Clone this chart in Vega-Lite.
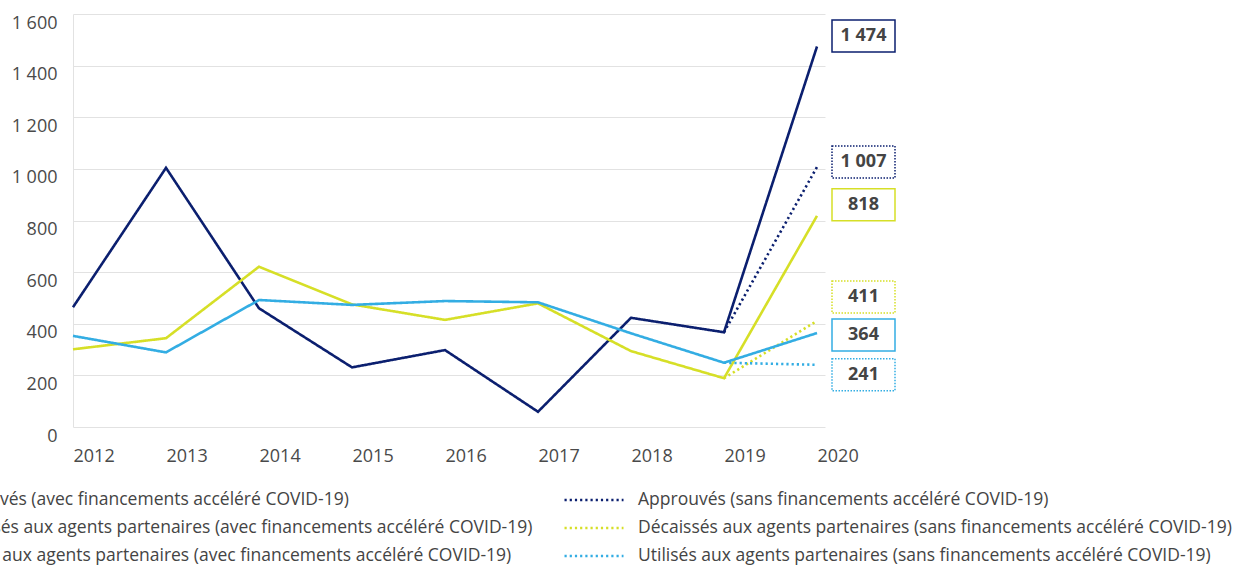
{
  "$schema": "https://vega.github.io/schema/vega-lite/v6.json",
  "width": 752,
  "height": 413,
  "autosize": {"type": "none"},
  "padding": {"left": 73, "top": 14, "right": 410, "bottom": 139},
  "background": "white",
  "config": {
    "view": {"stroke": null},
    "font": "Open Sans",
    "locale": {"number": {"decimal": ",", "thousands": " ", "grouping": [3], "currency": ["", " €"]}}
  },
  "datasets": {
    "series": [
      {"series": "Approuvés (avec financements accéléré COVID-19)", "year": 2012, "value": 464},
      {"series": "Approuvés (avec financements accéléré COVID-19)", "year": 2013, "value": 1004},
      {"series": "Approuvés (avec financements accéléré COVID-19)", "year": 2014, "value": 460},
      {"series": "Approuvés (avec financements accéléré COVID-19)", "year": 2015, "value": 231},
      {"series": "Approuvés (avec financements accéléré COVID-19)", "year": 2016, "value": 298},
      {"series": "Approuvés (avec financements accéléré COVID-19)", "year": 2017, "value": 59},
      {"series": "Approuvés (avec financements accéléré COVID-19)", "year": 2018, "value": 423},
      {"series": "Approuvés (avec financements accéléré COVID-19)", "year": 2019, "value": 367},
      {"series": "Approuvés (avec financements accéléré COVID-19)", "year": 2020, "value": 1474},
      {"series": "Approuvés (sans financements accéléré COVID-19)", "year": 2019, "value": 367},
      {"series": "Approuvés (sans financements accéléré COVID-19)", "year": 2020, "value": 1007},
      {"series": "Décaissés aux agents partenaires (avec financements accéléré COVID-19)", "year": 2012, "value": 301},
      {"series": "Décaissés aux agents partenaires (avec financements accéléré COVID-19)", "year": 2013, "value": 344},
      {"series": "Décaissés aux agents partenaires (avec financements accéléré COVID-19)", "year": 2014, "value": 621},
      {"series": "Décaissés aux agents partenaires (avec financements accéléré COVID-19)", "year": 2015, "value": 475},
      {"series": "Décaissés aux agents partenaires (avec financements accéléré COVID-19)", "year": 2016, "value": 415},
      {"series": "Décaissés aux agents partenaires (avec financements accéléré COVID-19)", "year": 2017, "value": 479},
      {"series": "Décaissés aux agents partenaires (avec financements accéléré COVID-19)", "year": 2018, "value": 294},
      {"series": "Décaissés aux agents partenaires (avec financements accéléré COVID-19)", "year": 2019, "value": 189},
      {"series": "Décaissés aux agents partenaires (avec financements accéléré COVID-19)", "year": 2020, "value": 818},
      {"series": "Décaissés aux agents partenaires (sans financements accéléré COVID-19)", "year": 2019, "value": 189},
      {"series": "Décaissés aux agents partenaires (sans financements accéléré COVID-19)", "year": 2020, "value": 411},
      {"series": "Utilisés aux agents partenaires (avec financements accéléré COVID-19)", "year": 2012, "value": 353},
      {"series": "Utilisés aux agents partenaires (avec financements accéléré COVID-19)", "year": 2013, "value": 289},
      {"series": "Utilisés aux agents partenaires (avec financements accéléré COVID-19)", "year": 2014, "value": 492},
      {"series": "Utilisés aux agents partenaires (avec financements accéléré COVID-19)", "year": 2015, "value": 473},
      {"series": "Utilisés aux agents partenaires (avec financements accéléré COVID-19)", "year": 2016, "value": 488},
      {"series": "Utilisés aux agents partenaires (avec financements accéléré COVID-19)", "year": 2017, "value": 483},
      {"series": "Utilisés aux agents partenaires (avec financements accéléré COVID-19)", "year": 2018, "value": 363},
      {"series": "Utilisés aux agents partenaires (avec financements accéléré COVID-19)", "year": 2019, "value": 249},
      {"series": "Utilisés aux agents partenaires (avec financements accéléré COVID-19)", "year": 2020, "value": 364},
      {"series": "Utilisés aux agents partenaires (sans financements accéléré COVID-19)", "year": 2019, "value": 249},
      {"series": "Utilisés aux agents partenaires (sans financements accéléré COVID-19)", "year": 2020, "value": 241}
    ],
    "labels": [
      {"series": "Approuvés (avec financements accéléré COVID-19)", "year": 2020, "value": 1474},
      {"series": "Approuvés (sans financements accéléré COVID-19)", "year": 2020, "value": 1007},
      {"series": "Décaissés aux agents partenaires (avec financements accéléré COVID-19)", "year": 2020, "value": 818},
      {"series": "Décaissés aux agents partenaires (sans financements accéléré COVID-19)", "year": 2020, "value": 411},
      {"series": "Utilisés aux agents partenaires (avec financements accéléré COVID-19)", "year": 2020, "value": 364},
      {"series": "Utilisés aux agents partenaires (sans financements accéléré COVID-19)", "year": 2020, "value": 241}
    ]
  },
  "encoding": {
    "x": {
      "field": "year", "type": "quantitative",
      "scale": {"domain": [2012, 2020.086], "nice": false, "zero": false},
      "axis": {
        "title": null, "values": [2012, 2013, 2014, 2015, 2016, 2017, 2018, 2019, 2020],
        "format": "d", "grid": false, "domain": false, "ticks": false, "tickSize": 0,
        "labelAlign": "left", "labelPadding": 20, "labelFontSize": 18, "labelColor": "#4a4a4a",
        "labelFont": "Open Sans", "labelFlush": false, "labelOverlap": false
      }
    },
    "y": {
      "field": "value", "type": "quantitative",
      "scale": {"domain": [0, 1600], "nice": false},
      "axis": {
        "title": null, "values": [0, 200, 400, 600, 800, 1000, 1200, 1400, 1600],
        "format": ",d", "grid": true, "gridColor": "#e2e2e2", "gridWidth": 1,
        "domain": true, "domainColor": "#e2e2e2", "domainWidth": 1,
        "ticks": false, "tickSize": 0, "labelPadding": 16, "labelOffset": 9,
        "labelFontSize": 18, "labelColor": "#4a4a4a", "labelFont": "Open Sans",
        "labelBaseline": "middle", "labelFlush": false, "labelOverlap": false
      }
    }
  },
  "layer": [
    {
      "data": {"name": "series"},
      "mark": {"type": "line", "strokeWidth": 2.6},
      "encoding": {
        "color": {
          "field": "series", "type": "nominal",
          "scale": {
            "domain": [
              "Approuvés (avec financements accéléré COVID-19)",
              "Décaissés aux agents partenaires (avec financements accéléré COVID-19)",
              "Utilisés aux agents partenaires (avec financements accéléré COVID-19)",
              "Approuvés (sans financements accéléré COVID-19)",
              "Décaissés aux agents partenaires (sans financements accéléré COVID-19)",
              "Utilisés aux agents partenaires (sans financements accéléré COVID-19)"
            ],
            "range": ["#0b1f6f", "#d6df27", "#33ade3", "#0b1f6f", "#d6df27", "#33ade3"]
          },
          "legend": {
            "title": null, "orient": "none", "legendX": -209, "legendY": 476,
            "columns": 2, "columnPadding": 30, "rowPadding": 8, "clipHeight": 20,
            "symbolType": "stroke", "symbolSize": 3481, "symbolStrokeWidth": 2.5,
            "labelFontSize": 17.5, "labelColor": "#444444", "labelFont": "Open Sans",
            "labelOffset": 13, "labelLimit": 900, "padding": 0
          }
        },
        "strokeDash": {
          "field": "series", "type": "nominal",
          "scale": {
            "domain": [
              "Approuvés (avec financements accéléré COVID-19)",
              "Décaissés aux agents partenaires (avec financements accéléré COVID-19)",
              "Utilisés aux agents partenaires (avec financements accéléré COVID-19)",
              "Approuvés (sans financements accéléré COVID-19)",
              "Décaissés aux agents partenaires (sans financements accéléré COVID-19)",
              "Utilisés aux agents partenaires (sans financements accéléré COVID-19)"
            ],
            "range": [[1, 0], [1, 0], [1, 0], [2.2, 3], [2.2, 3], [2.2, 3]]
          }
        }
      }
    },
    {
      "data": {"name": "labels"},
      "transform": [{"filter": {"field": "series", "equal": "Approuvés (avec financements accéléré COVID-19)"}}],
      "layer": [
        {"mark": {"type": "point", "shape": "M-1,-0.508H1V0.508H-1Z", "size": 3969, "filled": true, "fill": "white", "stroke": "#0b1f6f", "strokeWidth": 1.5, "opacity": 1, "xOffset": 46.5, "yOffset": -10.5}},
        {"mark": {"type": "text", "fontWeight": "bold", "fontSize": 18, "font": "Open Sans", "color": "#444444", "align": "center", "baseline": "middle", "xOffset": 46.5, "yOffset": -10.5},
         "encoding": {"text": {"field": "value", "type": "quantitative", "format": ",d"}}}
      ]
    },
    {
      "data": {"name": "labels"},
      "transform": [{"filter": {"field": "series", "equal": "Approuvés (sans financements accéléré COVID-19)"}}],
      "layer": [
        {"mark": {"type": "point", "shape": "M-1,-0.508H1V0.508H-1Z", "size": 3969, "filled": true, "fill": "white", "stroke": "#0b1f6f", "strokeWidth": 1.5, "strokeDash": [1.5, 1.5], "opacity": 1, "xOffset": 46.5, "yOffset": -5}},
        {"mark": {"type": "text", "fontWeight": "bold", "fontSize": 18, "font": "Open Sans", "color": "#444444", "align": "center", "baseline": "middle", "xOffset": 46.5, "yOffset": -5},
         "encoding": {"text": {"field": "value", "type": "quantitative", "format": ",d"}}}
      ]
    },
    {
      "data": {"name": "labels"},
      "transform": [{"filter": {"field": "series", "equal": "Décaissés aux agents partenaires (avec financements accéléré COVID-19)"}}],
      "layer": [
        {"mark": {"type": "point", "shape": "M-1,-0.508H1V0.508H-1Z", "size": 3969, "filled": true, "fill": "white", "stroke": "#d6df27", "strokeWidth": 1.5, "opacity": 1, "xOffset": 46.5, "yOffset": -11}},
        {"mark": {"type": "text", "fontWeight": "bold", "fontSize": 18, "font": "Open Sans", "color": "#444444", "align": "center", "baseline": "middle", "xOffset": 46.5, "yOffset": -11},
         "encoding": {"text": {"field": "value", "type": "quantitative", "format": ",d"}}}
      ]
    },
    {
      "data": {"name": "labels"},
      "transform": [{"filter": {"field": "series", "equal": "Décaissés aux agents partenaires (sans financements accéléré COVID-19)"}}],
      "layer": [
        {"mark": {"type": "point", "shape": "M-1,-0.508H1V0.508H-1Z", "size": 3969, "filled": true, "fill": "white", "stroke": "#d6df27", "strokeWidth": 1.5, "strokeDash": [1.5, 1.5], "opacity": 1, "xOffset": 46.5, "yOffset": -24}},
        {"mark": {"type": "text", "fontWeight": "bold", "fontSize": 18, "font": "Open Sans", "color": "#444444", "align": "center", "baseline": "middle", "xOffset": 46.5, "yOffset": -24},
         "encoding": {"text": {"field": "value", "type": "quantitative", "format": ",d"}}}
      ]
    },
    {
      "data": {"name": "labels"},
      "transform": [{"filter": {"field": "series", "equal": "Utilisés aux agents partenaires (avec financements accéléré COVID-19)"}}],
      "layer": [
        {"mark": {"type": "point", "shape": "M-1,-0.508H1V0.508H-1Z", "size": 3969, "filled": true, "fill": "white", "stroke": "#33ade3", "strokeWidth": 1.5, "opacity": 1, "xOffset": 46.5, "yOffset": 2}},
        {"mark": {"type": "text", "fontWeight": "bold", "fontSize": 18, "font": "Open Sans", "color": "#444444", "align": "center", "baseline": "middle", "xOffset": 46.5, "yOffset": 2},
         "encoding": {"text": {"field": "value", "type": "quantitative", "format": ",d"}}}
      ]
    },
    {
      "data": {"name": "labels"},
      "transform": [{"filter": {"field": "series", "equal": "Utilisés aux agents partenaires (sans financements accéléré COVID-19)"}}],
      "layer": [
        {"mark": {"type": "point", "shape": "M-1,-0.508H1V0.508H-1Z", "size": 3969, "filled": true, "fill": "white", "stroke": "#33ade3", "strokeWidth": 1.5, "strokeDash": [1.5, 1.5], "opacity": 1, "xOffset": 46.5, "yOffset": 10}},
        {"mark": {"type": "text", "fontWeight": "bold", "fontSize": 18, "font": "Open Sans", "color": "#444444", "align": "center", "baseline": "middle", "xOffset": 46.5, "yOffset": 10},
         "encoding": {"text": {"field": "value", "type": "quantitative", "format": ",d"}}}
      ]
    }
  ]
}
